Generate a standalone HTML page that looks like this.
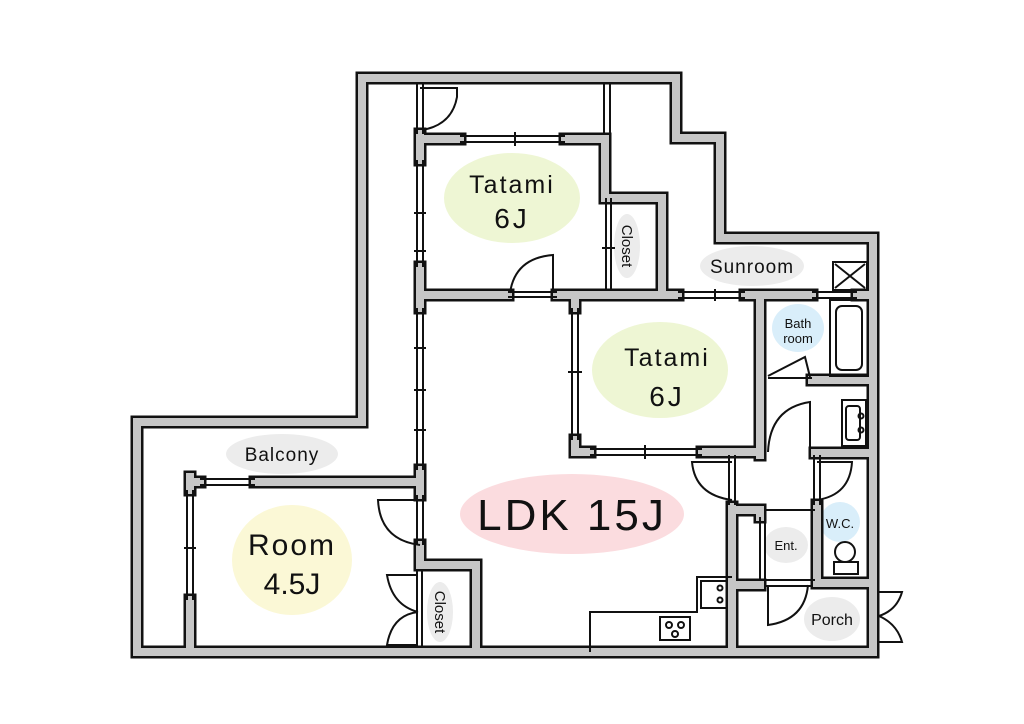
<!DOCTYPE html>
<html><head><meta charset="utf-8"><style>
html,body{margin:0;padding:0;background:#fff;}
svg{display:block;}
text{font-family:"Liberation Sans",sans-serif;fill:#111;}
</style></head><body>
<svg width="1024" height="724" viewBox="0 0 1024 724" xmlns="http://www.w3.org/2000/svg">
<defs>
<path id="walls" d="M362,78 H676 V138 H720 V238 H873 V652 H137 V422 H362 Z
M190,600 V652 M190,477 V490 M190,482 H200 M255,482 H420
M420,134 V160 M420,267 V308 M420,470 V495 M420,545 V565 H476 V652
M420,139 H460 M565,139 H605 V198 H662 V295
M420,295 H508 M557,295 H678 M745,295 H812 M857,295 H873
M575,295 V308 M575,440 V452 H590 M702,452 H760 M760,295 V455
M812,380 H873 M815,453 H873
M732,507 V652 M732,510 H760 V517 M732,585 H760
M817,505 V583 H873"/>
</defs>
<!-- label blobs -->
<ellipse cx="512" cy="198" rx="68" ry="45" fill="#eef6d4"/>
<ellipse cx="660" cy="370" rx="68" ry="48" fill="#eef6d4"/>
<ellipse cx="572" cy="514" rx="112" ry="40" fill="#fbdcdf"/>
<ellipse cx="292" cy="560" rx="60" ry="55" fill="#fbf8d6"/>
<ellipse cx="752" cy="266" rx="52" ry="20" fill="#ececec"/>
<ellipse cx="282" cy="454" rx="56" ry="20" fill="#ececec"/>
<ellipse cx="798" cy="328" rx="26" ry="24" fill="#d9eefa"/>
<ellipse cx="840" cy="522" rx="20" ry="20" fill="#d9eefa"/>
<ellipse cx="786" cy="545" rx="22" ry="18" fill="#ececec"/>
<ellipse cx="832" cy="619" rx="28" ry="22" fill="#ececec"/>
<ellipse cx="627" cy="246" rx="13" ry="32" fill="#ececec"/>
<ellipse cx="440" cy="612" rx="13" ry="30" fill="#ececec"/>
<!-- walls -->
<use href="#walls" fill="none" stroke="#111" stroke-width="13" stroke-linecap="square" stroke-linejoin="miter"/>
<use href="#walls" fill="none" stroke="#c6c6c6" stroke-width="8" stroke-linecap="square" stroke-linejoin="miter"/>
<!-- windows / thin lines -->
<g fill="none" stroke="#111" stroke-width="2">
<path d="M187,490 V600 M193,490 V600 M184,548 H196"/>
<path d="M200,479 H255 M200,485 H255"/>
<path d="M417,160 V267 M423,160 V267 M414,213 H426 M414,251 H426"/>
<path d="M417,308 V470 M423,308 V470 M414,348 H426 M414,390 H426 M414,430 H426"/>
<path d="M460,136 H565 M460,142 H565 M515,132 V146"/>
<path d="M678,292 H745 M678,298 H745 M715,289 V301 M812,292 H857 M812,298 H857"/>
<path d="M572,308 V440 M578,308 V440 M568,372 H582"/>
<path d="M590,449 H702 M590,455 H702 M645,445 V459"/>
<path d="M417,84 V134 M423,84 V134 M604,84 V134 M610,84 V134"/>
<path d="M606,198 V290 M611,198 V290 M602,248 H615"/>
<path d="M508,292 H557 M508,297 H557"/>
<path d="M729,455 V505 M735,455 V505 M814,455 V505 M820,455 V505"/>
<path d="M765,510 H815 M765,580 H815 M760,517 V580 M765,517 V580"/>
<path d="M417,495 V545 M423,495 V545 M417,570 V648 M422,570 V648"/>
<path d="M812,378 H768 M765,586 H812"/>
<!-- doors -->
<path d="M420,88 H457 V97 Q452,125 422,130"/>
<path d="M553,293 V255 Q515,258 510,293"/>
<path d="M768,376 L805,357 L810,377"/>
<path d="M768,452 Q770,408 810,402 V452"/>
<path d="M732,462 H692 Q695,495 732,500"/>
<path d="M817,462 H852 Q850,495 817,500"/>
<path d="M768,585 V625 Q805,620 808,585"/>
<path d="M420,500 H378 Q380,540 420,545"/>
<path d="M418,575 H387 Q392,605 418,612 M418,645 H387 Q392,615 418,612"/>
<path d="M879,592 H902 Q897,610 879,616 M879,642 H902 Q897,624 879,616"/>
<!-- fixtures -->
<rect x="833" y="262" width="34" height="28"/>
<path d="M835,264 L865,288 M865,264 L835,288"/>
<rect x="830" y="300" width="38" height="76"/>
<rect x="836" y="306" width="26" height="64" rx="6"/>
<rect x="842" y="400" width="24" height="46"/>
<rect x="846" y="406" width="14" height="34" rx="3"/>
<circle cx="861" cy="416" r="2.5"/><circle cx="861" cy="430" r="2.5"/>
<circle cx="845" cy="552" r="10"/>
<rect x="834" y="562" width="24" height="12"/>
<path d="M590,652 V612 H697 V577 H732"/>
<rect x="701" y="581" width="26" height="27"/>
<circle cx="720" cy="588" r="2.5"/><circle cx="720" cy="600" r="2.5"/>
<rect x="660" y="617" width="30" height="23"/>
<circle cx="669" cy="625" r="3"/><circle cx="681" cy="625" r="3"/><circle cx="675" cy="634" r="3"/>
</g>
<!-- labels -->
<text x="512" y="193" font-size="25" text-anchor="middle" letter-spacing="2">Tatami</text>
<text x="512" y="228" font-size="28" text-anchor="middle" letter-spacing="3">6J</text>
<text x="667" y="366" font-size="25" text-anchor="middle" letter-spacing="2">Tatami</text>
<text x="667" y="406" font-size="28" text-anchor="middle" letter-spacing="3">6J</text>
<text x="572" y="530" font-size="44" text-anchor="middle" letter-spacing="3">LDK 15J</text>
<text x="292" y="555" font-size="30" text-anchor="middle" letter-spacing="2">Room</text>
<text x="292" y="594" font-size="30" text-anchor="middle">4.5J</text>
<text x="752" y="273" font-size="19" text-anchor="middle" letter-spacing="1">Sunroom</text>
<text x="282" y="461" font-size="19" text-anchor="middle" letter-spacing="1">Balcony</text>
<text x="798" y="328" font-size="13" text-anchor="middle">Bath</text>
<text x="798" y="343" font-size="13" text-anchor="middle">room</text>
<text x="840" y="528" font-size="13" text-anchor="middle">W.C.</text>
<text x="786" y="550" font-size="13" text-anchor="middle">Ent.</text>
<text x="832" y="625" font-size="16" text-anchor="middle">Porch</text>
<text x="0" y="0" font-size="15" text-anchor="middle" transform="translate(622,246) rotate(90)">Closet</text>
<text x="0" y="0" font-size="15" text-anchor="middle" transform="translate(435,612) rotate(90)">Closet</text>
</svg>
</body></html>
